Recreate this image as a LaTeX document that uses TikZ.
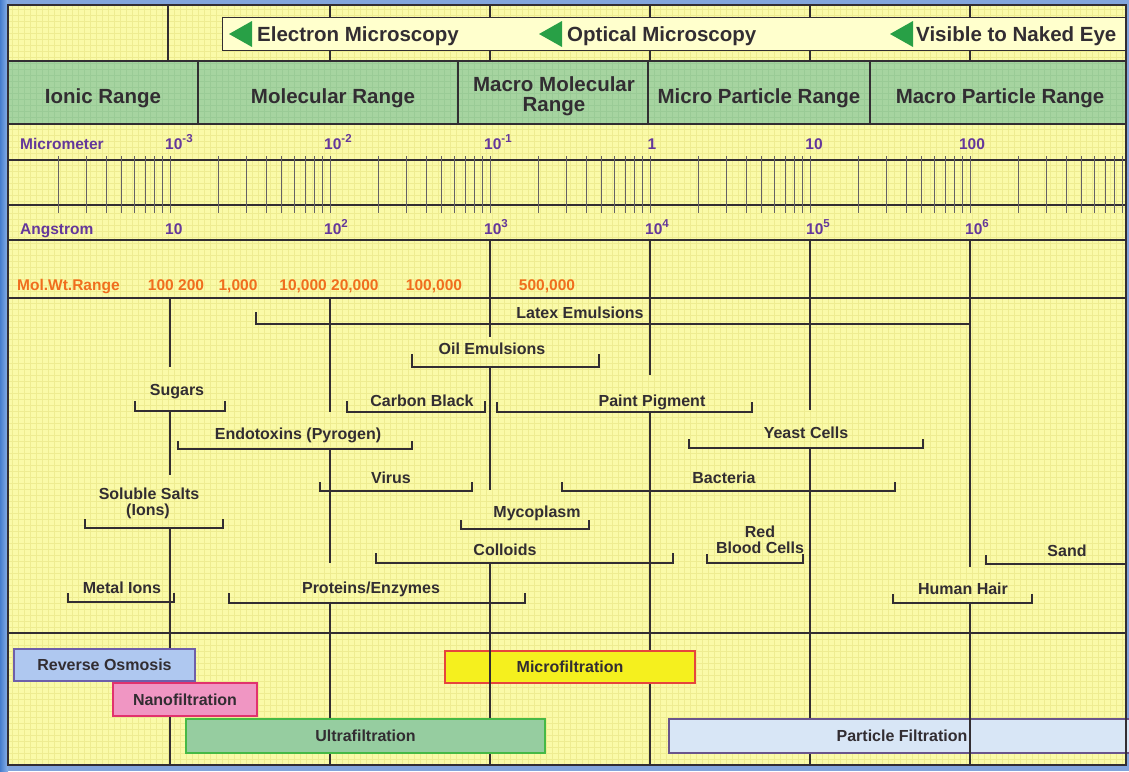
\documentclass[tikz,border=0pt]{standalone}
\usepackage{fontspec}
\setmainfont{Liberation Sans}
\definecolor{ink}{RGB}{50,45,50}
\definecolor{bgy}{RGB}{250,250,168}
\definecolor{gridy}{RGB}{238,236,145}
\definecolor{rangegreen}{RGB}{166,212,160}
\definecolor{gridg}{RGB}{154,203,150}
\definecolor{purp}{RGB}{100,55,155}
\definecolor{orng}{RGB}{240,110,30}
\definecolor{tri}{RGB}{40,160,70}
\definecolor{outblue}{RGB}{130,165,220}
\definecolor{barfill}{RGB}{255,255,205}
\definecolor{rofill}{RGB}{175,200,240}\definecolor{rodraw}{RGB}{110,95,170}
\definecolor{nffill}{RGB}{240,150,195}\definecolor{nfdraw}{RGB}{225,50,110}
\definecolor{uffill}{RGB}{150,205,160}\definecolor{ufdraw}{RGB}{70,185,70}
\definecolor{mffill}{RGB}{245,240,30}\definecolor{mfdraw}{RGB}{230,70,60}
\definecolor{pffill}{RGB}{216,230,246}\definecolor{pfdraw}{RGB}{105,85,140}
\newcommand{\myexp}[1]{\raisebox{6.5pt}{\fontsize{11.5}{12}\selectfont #1}}
\tikzset{
  major/.style={draw=ink, line width=2pt},
  thinln/.style={draw=ink, line width=1.2pt},
  tickln/.style={draw=ink!75, line width=0.8pt},
  brk/.style={draw=ink, line width=1.8pt},
  hdr/.style={font=\fontsize{20.5}{22}\selectfont\bfseries, text=ink, inner sep=0pt, anchor=base},
  lbl/.style={font=\fontsize{16}{17}\selectfont\bfseries, text=ink, inner sep=0pt, anchor=base, align=center},
  scl/.style={font=\fontsize{15.5}{16}\selectfont\bfseries, text=purp, inner sep=0pt, anchor=base west},
  mw/.style={font=\fontsize{15.5}{16}\selectfont\bfseries, text=orng, inner sep=0pt, anchor=base},
  fbox/.style={line width=1.5pt, inner sep=0pt, font=\fontsize{16}{17}\selectfont\bfseries, text=ink},
  tri/.style={fill=tri, draw=none},
}
\begin{document}
\begin{tikzpicture}[x=1pt,y=-1pt]
\useasboundingbox (0,0) rectangle (1129,771);
% outer background
\fill[outblue] (0,0) rectangle (1129,771);
\shade[left color={rgb,255:red,70;green,125;blue,205}, right color={rgb,255:red,140;green,180;blue,235}] (0,0) rectangle (8,771);
% yellow paper
\fill[bgy] (8,5) rectangle (1126,765);
\foreach \gx in {12,18,...,1126} \draw[gridy, line width=0.8pt] (\gx,5) -- (\gx,765);
\foreach \gy in {9,15,...,765} \draw[gridy, line width=0.8pt] (8,\gy) -- (1126,\gy);
% green range row
\fill[rangegreen] (8,61) rectangle (1126,124);
\foreach \gx in {12,18,...,1126} \draw[gridg, line width=0.8pt] (\gx,61) -- (\gx,124);
\foreach \gy in {63,69,...,124} \draw[gridg, line width=0.8pt] (8,\gy) -- (1126,\gy);

% ---- top row: microscopy bar
\foreach \vx in {330,490,650,810,970} {
  \draw[thinln] (\vx,5) -- (\vx,17);
  \draw[thinln] (\vx,50) -- (\vx,61);
}
\draw[major] (168,5) -- (168,61);
\node[draw=ink, line width=1pt, fill=barfill, minimum width=903pt, minimum height=33pt, inner sep=0pt] (bar) at (673.5,33.5) {};
\fill[tri] (229,34) -- (252,21) -- (252,47) -- cycle;
\fill[tri] (539,34) -- (562,21) -- (562,47) -- cycle;
\fill[tri] (890,34) -- (913,21) -- (913,47) -- cycle;
\node[hdr, anchor=base west] (em) at (257,41) {Electron Microscopy};
\node[hdr, anchor=base west] (om) at (567,41) {Optical Microscopy};
\node[hdr, anchor=base west] (ve) at (916,41) {Visible to Naked Eye};

% ---- range row
\draw[major] (8,61) -- (1126,61);
\draw[major] (8,124) -- (1126,124);
\foreach \vx in {198,458,648,870} \draw[major] (\vx,61) -- (\vx,124);
\node[hdr] (ionic) at (103,103) {Ionic Range};
\node[hdr] (molec) at (333,103) {Molecular Range};
\node[hdr] (macm1) at (554,91) {Macro Molecular};
\node[hdr] (macm2) at (554,111) {Range};
\node[hdr] (micp) at (759,103) {Micro Particle Range};
\node[hdr] (macp) at (1000,103) {Macro Particle Range};

% ---- scale
\draw[thinln] (8,160) -- (1126,160);
\draw[thinln] (8,205) -- (1126,205);
\foreach \d in {0,...,6} {
  \foreach \k in {1,...,9} {
    \pgfmathsetmacro{\xx}{10+160*(\d+log10(\k))}
    \ifdim\xx pt>12pt \ifdim\xx pt<1125pt
      \draw[tickln] (\xx,156) -- (\xx,213);
    \fi\fi
  }
}
\node[scl] (micro) at (20,149) {Micrometer};
\node[scl] (m3) at (165,149) {10\myexp{-3}};
\node[scl] (m2) at (324,149) {10\myexp{-2}};
\node[scl] (m1) at (484,149) {10\myexp{-1}};
\node[scl, anchor=base] (m0) at (652,149) {1};
\node[scl, anchor=base] (p1) at (814,149) {10};
\node[scl, anchor=base] (p2) at (972,149) {100};
\node[scl] (ang) at (20,234) {Angstrom};
\node[scl] (a1) at (165,234) {10};
\node[scl] (a2) at (324,234) {10\myexp{2}};
\node[scl] (a3) at (484,234) {10\myexp{3}};
\node[scl] (a4) at (645,234) {10\myexp{4}};
\node[scl] (a5) at (806,234) {10\myexp{5}};
\node[scl] (a6) at (965,234) {10\myexp{6}};

% ---- mol wt row
\draw[major] (8,240) -- (1126,240);
\draw[major] (8,298) -- (1126,298);
\foreach \vx in {490,650,810,970} \draw[major] (\vx,240) -- (\vx,298);
\node[mw, anchor=base west] (mwl) at (17,290) {Mol.Wt.Range};
\node[mw] (w1) at (176,290) {100 200};
\node[mw] (w2) at (238,290) {1,000};
\node[mw] (w3) at (329,290) {10,000 20,000};
\node[mw] (w4) at (434,290) {100,000};
\node[mw] (w5) at (547,290) {500,000};

% ---- middle section verticals
\draw[major] (170,298) -- (170,367);
\draw[major] (170,411) -- (170,475);
\draw[major] (170,528) -- (170,633);
\draw[major] (330,298) -- (330,412);
\draw[major] (330,449) -- (330,563);
\draw[major] (330,603) -- (330,633);
\draw[major] (490,298) -- (490,337);
\draw[major] (490,367) -- (490,490);
\draw[major] (490,563) -- (490,633);
\draw[major] (650,298) -- (650,375);
\draw[major] (650,412) -- (650,633);
\draw[major] (810,298) -- (810,410);
\draw[major] (810,448) -- (810,633);
\draw[major] (970,298) -- (970,567);
\draw[major] (970,603) -- (970,633);

% ---- brackets and labels
\draw[brk] (256,312) -- (256,324) -- (970,324);
\node[lbl] (latex) at (580,318) {Latex Emulsions};
\draw[brk] (412,354) -- (412,367) -- (599,367) -- (599,354);
\node[lbl] (oil) at (492,354) {Oil Emulsions};
\draw[brk] (135,401) -- (135,411) -- (225,411) -- (225,401);
\node[lbl] (sugars) at (177,395) {Sugars};
\draw[brk] (347,401) -- (347,412) -- (485,412) -- (485,401);
\node[lbl] (carbon) at (422,406) {Carbon Black};
\draw[brk] (497,402) -- (497,412) -- (752,412) -- (752,402);
\node[lbl] (paint) at (652,406) {Paint Pigment};
\draw[brk] (178,441) -- (178,449) -- (412,449) -- (412,441);
\node[lbl] (endo) at (298,439) {Endotoxins (Pyrogen)};
\draw[brk] (689,439) -- (689,448) -- (923,448) -- (923,439);
\node[lbl] (yeast) at (806,438) {Yeast Cells};
\draw[brk] (320,482) -- (320,491) -- (472,491) -- (472,482);
\node[lbl] (virus) at (391,483) {Virus};
\draw[brk] (562,482) -- (562,491) -- (895,491) -- (895,482);
\node[lbl] (bact) at (724,483) {Bacteria};
\draw[brk] (85,519) -- (85,528) -- (223,528) -- (223,519);
\node[lbl] (salts1) at (149,499) {Soluble Salts};
\node[lbl] (salts2) at (148,515) {(Ions)};
\draw[brk] (461,520) -- (461,529) -- (589,529) -- (589,520);
\node[lbl] (myco) at (537,517) {Mycoplasm};
\draw[brk] (376,553) -- (376,563) -- (673,563) -- (673,553);
\node[lbl] (colloids) at (505,555) {Colloids};
\draw[brk] (707,554) -- (707,563) -- (803,563) -- (803,554);
\node[lbl] (red1) at (760,537) {Red};
\node[lbl] (red2) at (760,553) {Blood Cells};
\draw[brk] (986,555) -- (986,564) -- (1126,564);
\node[lbl] (sand) at (1067,556) {Sand};
\draw[brk] (68,593) -- (68,602) -- (174,602) -- (174,593);
\node[lbl] (metal) at (122,593) {Metal Ions};
\draw[brk] (229,593) -- (229,603) -- (525,603) -- (525,593);
\node[lbl] (prot) at (371,593) {Proteins/Enzymes};
\draw[brk] (893,594) -- (893,603) -- (1032,603) -- (1032,594);
\node[lbl] (hair) at (963,594) {Human Hair};

% ---- bottom section
\draw[major] (8,633) -- (1126,633);
\foreach \vx in {170,330,490,650,810,970} \draw[major] (\vx,633) -- (\vx,765);
\node[fbox, draw=rodraw, fill=rofill, minimum width=181pt, minimum height=32pt] (ro) at (104.5,665) {Reverse Osmosis};
\node[fbox, draw=nfdraw, fill=nffill, minimum width=144pt, minimum height=33pt] (nf) at (185,699.5) {Nanofiltration};
\node[fbox, draw=ufdraw, fill=uffill, minimum width=359pt, minimum height=34pt] (uf) at (365.5,736) {Ultrafiltration};
\node[fbox, draw=mfdraw, fill=mffill, minimum width=250pt, minimum height=32pt] (mf) at (570,667) {Microfiltration};
\node[fbox, draw=pfdraw, fill=pffill, minimum width=466pt, minimum height=34pt] (pf) at (902,736) {Particle Filtration};
\draw[major] (490,650) -- (490,684);
\draw[major] (970,718) -- (970,754);

% ---- frame
\draw[line width=2.5pt, draw=ink] (8,5) rectangle (1126,765);
\end{tikzpicture}
\end{document}
